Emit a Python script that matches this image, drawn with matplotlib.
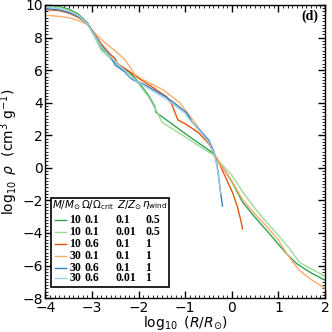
import matplotlib.pyplot as plt
from matplotlib.ticker import MultipleLocator
from matplotlib.patches import Rectangle

# model labels (legend columns)
mass = ["10", "10", "10", "30", "30", "30"]
omega = ["0.1", "0.1", "0.6", "0.1", "0.6", "0.6"]
metal = ["0.1", "0.01", "0.1", "0.1", "0.1", "0.01"]
eta = ["0.5", "0.5", "1", "1", "1", "1"]
colors = ["#31a354", "#a1d99b", "#e6550d", "#fdae6b", "#3182bd", "#9ecae1"]

# log10 R/Rsun and log10 rho
x_g = [-4, -3.7, -3.5, -3.3, -3.1, -2.95, -2.8, -2.75, -2.7, -2.62, -2.45, -2.19, -2.0, -1.8,
       -1.65, -1.63, -1.48, -1.0, -0.7, -0.41, -0.37, -0.2, 0.0, 0.23, 0.5, 0.75, 1.0, 1.2,
       1.4, 1.7, 2.0]
y_g = [9.97, 9.9, 9.75, 9.45, 8.9, 8.15, 7.35, 7.2, 7.1, 6.85, 6.35, 5.85, 5.25, 4.5,
       3.75, 3.4, 3.1, 2.1, 1.5, 0.92, 0.8, 0.05, -0.85, -2.1, -3.05, -3.85, -4.7, -5.35,
       -5.9, -6.45, -6.9]

x_lg = [-4, -3.7, -3.5, -3.3, -3.1, -2.95, -2.8, -2.7, -2.62, -2.45, -2.2, -2.0, -1.8, -1.63,
        -1.6, -1.5, -1.0, -0.6, -0.41, -0.37, -0.2, 0.0, 0.25, 0.5, 0.75, 1.0, 1.25, 1.45,
        1.7, 2.0]
y_lg = [9.93, 9.85, 9.68, 9.38, 8.85, 8.05, 7.2, 6.95, 6.75, 6.3, 5.75, 5.15, 4.4, 3.55,
        3.4, 2.8, 1.9, 1.15, 0.82, 0.75, 0.15, -0.45, -1.55, -2.5, -3.35, -4.15, -5.0, -5.8,
        -6.2, -6.65]

x_o = [-4, -3.7, -3.5, -3.3, -3.1, -2.95, -2.8, -2.62, -2.5, -2.47, -2.4, -2.19, -2.0, -1.7,
       -1.4, -1.29, -1.16, -0.97, -0.71, -0.5, -0.39, -0.37, -0.25, -0.11, 0.02, 0.12, 0.19,
       0.23]
y_o = [9.72, 9.65, 9.5, 9.25, 8.85, 8.25, 7.6, 7.0, 6.7, 6.46, 6.3, 5.9, 5.5, 4.95,
       4.36, 3.9, 2.95, 2.65, 2.15, 1.5, 0.98, 0.8, 0.15, -0.74, -1.55, -2.4, -3.2,
       -3.75]

x_lo = [-4, -3.7, -3.5, -3.3, -3.1, -2.9, -2.75, -2.62, -2.45, -2.3, -2.15, -2.08, -2.05,
        -1.9, -1.48, -1.12, -0.84, -0.6, -0.45, -0.37, -0.25, -0.1, 0.0, 0.23, 0.5, 0.75,
        1.0, 1.2, 1.3, 1.45, 1.7, 2.0]
y_lo = [9.37, 9.3, 9.22, 9.05, 8.8, 8.15, 7.75, 7.45, 7.05, 6.65, 6.05, 5.72, 5.68,
        5.4, 4.8, 4.0, 2.95, 2.0, 1.35, 0.85, 0.2, -0.35, -0.8, -1.95, -2.85, -3.6,
        -4.45, -5.35, -5.75, -6.3, -6.85, -7.4]

x_b = [-4, -3.7, -3.5, -3.3, -3.1, -2.95, -2.8, -2.62, -2.55, -2.5, -2.3, -2.19, -2.12, -1.9,
       -1.42, -1.2, -0.97, -0.88, -0.86, -0.75, -0.5, -0.41, -0.37, -0.32, -0.28, -0.25,
       -0.22, -0.2]
y_b = [9.78, 9.7, 9.55, 9.3, 8.85, 8.2, 7.5, 6.9, 6.55, 6.3, 5.9, 5.55, 5.4, 5.15,
       4.37, 3.9, 3.38, 2.95, 2.83, 2.5, 1.72, 1.15, 0.8, 0.2, -0.6, -1.35,
       -1.95, -2.34]

x_lb = [-4, -3.7, -3.5, -3.3, -3.1, -2.95, -2.8, -2.62, -2.45, -2.3, -2.19, -2.0, -1.42, -1.0,
        -0.92, -0.86, -0.7, -0.5, -0.37, -0.32, -0.28, -0.24]
y_lb = [9.85, 9.77, 9.62, 9.35, 8.85, 8.15, 7.45, 6.85, 6.4, 6.0, 5.6, 5.25, 4.25, 3.35,
        3.0, 2.85, 2.3, 1.6, 0.8, 0.1, -0.7, -1.6]

xs = [x_g, x_lg, x_o, x_lo, x_b, x_lb]
ys = [y_g, y_lg, y_o, y_lo, y_b, y_lb]

fig, ax = plt.subplots(figsize=(3.32, 3.32), dpi=100)
fig.subplots_adjust(left=0.137, right=0.979, bottom=0.102, top=0.985)

for x, y, c in zip(xs, ys, colors):
    ax.plot(x, y, color=c, lw=1.0)

ax.set_xlim(-4, 2)
ax.set_ylim(-8, 10)
ax.xaxis.set_major_locator(MultipleLocator(1))
ax.xaxis.set_minor_locator(MultipleLocator(0.1))
ax.yaxis.set_major_locator(MultipleLocator(2))
ax.yaxis.set_minor_locator(MultipleLocator(0.2))
ax.tick_params(which="both", direction="in", top=True, right=True, labelsize=10)
ax.tick_params(which="major", length=5, width=1, pad=2)
ax.tick_params(which="minor", length=2.5, width=0.6)
for s in ax.spines.values():
    s.set_linewidth(1.0)

ax.set_xlabel(r"$\log_{10}\ (R/R_{\odot})$", fontsize=10)
ax.xaxis.set_label_coords(0.5, -0.053)
ax.set_ylabel(r"$\log_{10}\ \rho\ \ ({\rm cm}^3\ {\rm g}^{-1})$", fontsize=10)
ax.yaxis.set_label_coords(-0.09, 0.5)

ax.text(0.975, 0.96, "(d)", transform=ax.transAxes, ha="right", va="center",
        family="Liberation Serif", weight="bold", fontsize=10)

# hand-made legend table
ax.add_patch(Rectangle((0.019, 0.037), 0.423, 0.306, transform=ax.transAxes,
                       facecolor="white", edgecolor="black", lw=1.2, zorder=5))
hy = 0.318
for hx, h in zip([0.022, 0.127, 0.256, 0.347],
                 [r"$M/M_{\odot}$", r"$\Omega/\Omega_{\rm crit}$", r"$Z/Z_{\odot}$", r"$\eta_{\rm wind}$"]):
    ax.text(hx, hy, h, transform=ax.transAxes, fontsize=7.5, va="center", ha="left", zorder=6)

rows = [0.268, 0.226, 0.184, 0.145, 0.104, 0.067]
for i, ry in enumerate(rows):
    ax.plot([0.034, 0.073], [ry, ry], transform=ax.transAxes, color=colors[i], lw=1.0, zorder=6)
    for cx, val in zip([0.086, 0.141, 0.252, 0.356], [mass[i], omega[i], metal[i], eta[i]]):
        ax.text(cx, ry, val, transform=ax.transAxes, fontsize=8.5, va="center", ha="left",
                family="Liberation Serif", weight="bold", zorder=6)

plt.savefig("out.png", dpi=100)
